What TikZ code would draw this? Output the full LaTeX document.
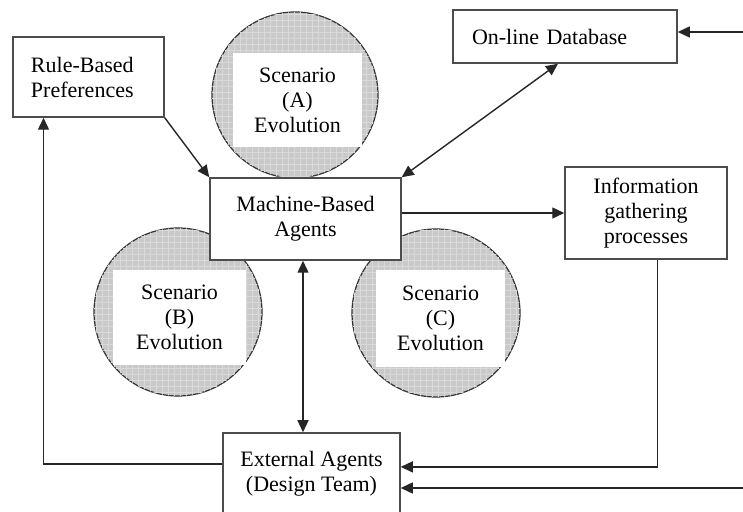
\documentclass[tikz,border=0pt]{standalone}
\usepackage{fontspec}
\setmainfont{Liberation Serif}
\usetikzlibrary{arrows.meta,calc,patterns}

\tikzset{
  box/.style={draw=black!70, line width=0.75pt, fill=white, align=center,
    font=\fontsize{11}{12.5}\selectfont, inner sep=0pt},
  scenario/.style={circle, draw=black!80, line width=0.6pt, fill=gray!42,
    postaction={pattern=grid, pattern color=gray!30}, inner sep=0pt},
  scentext/.style={fill=white, align=center, inner sep=0pt,
    font=\fontsize{11}{12.5}\selectfont},
  link/.style={draw=black!85, line width=0.7pt},
  tip/.tip={Triangle[length=6pt,width=5.5pt]},
}

\begin{document}
\begin{tikzpicture}[x=0.5pt,y=-0.5pt]
   \useasboundingbox (0,0) rectangle (743,512);

   \node (ScenarioA) at (295,95) [scenario, minimum size=83pt] {};
   \node (ScenarioAText) at (297.5,100) [scentext, minimum width=64.5pt, minimum height=47pt] {Scenario\\(A)\\Evolution};

   \node (ScenarioB) at (178,312) [scenario, minimum size=84pt] {};
   \node (ScenarioBText) at (179.5,317.5) [scentext, minimum width=66.5pt, minimum height=47.5pt] {Scenario\\(B)\\Evolution};

   \node (ScenarioC) at (436,313) [scenario, minimum size=84pt] {};
   \node (ScenarioCText) at (440.5,318.5) [scentext, minimum width=64.5pt, minimum height=48.5pt] {Scenario\\(C)\\Evolution};

   \node (RuleBased) at (88.5,77) [box, align=left, text width=57.5pt, inner xsep=9pt, minimum height=40pt] {Rule-Based\\Preferences};

   \node (OnlineDB) at (565,36.5) [box, align=left, text width=93pt, inner xsep=9.5pt, minimum height=26.5pt] {On-line Database};

   \node (Machine) at (305.5,219) [box, minimum width=95.5pt, minimum height=41pt] {Machine-Based\\Agents};

   \node (Info) at (646,213) [box, minimum width=81pt, minimum height=46pt] {Information\\gathering\\processes};

   \node (External) at (311.5,473.5) [box, minimum width=88.5pt, minimum height=40.5pt] {External Agents\\(Design Team)};

   \coordinate (DataInput) at (743,32);
   \coordinate (DesignInput) at (743,488);

   \draw [link, -tip] (RuleBased.south east) -- (Machine.north west);
   \draw [link, tip-tip] (Machine.north east) -- ([xshift=-3.5pt]OnlineDB.south);
   \draw [link, -tip] (Machine.east |- Info.west) -- (Info.west);
   \draw [link, tip-tip] ([xshift=-1.25pt]Machine.south) -- ([xshift=-1.25pt]Machine.south |- External.north);

   \draw [link, -tip] ($(External.north west)!0.383!(External.south west)$) -| ($(RuleBased.south west)!0.205!(RuleBased.south east)$);
   \draw [link, -tip] ($(Info.south west)!0.57!(Info.south east)$) |- ($(External.north east)!0.42!(External.south east)$);

   \draw [link, -tip] (DesignInput) -- (DesignInput -| External.east);
   \draw [link, -tip] (DataInput) -- (DataInput -| OnlineDB.east);

\end{tikzpicture}
\end{document}
